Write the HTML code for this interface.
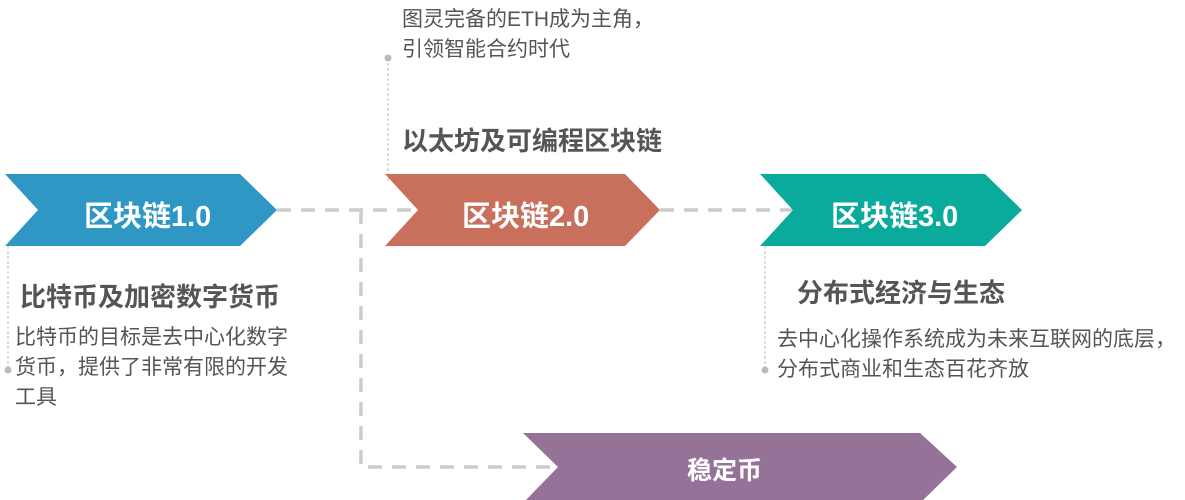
<!DOCTYPE html>
<html><head><meta charset="utf-8"><style>
body{margin:0;background:#fff;width:1185px;height:500px;overflow:hidden;position:relative;font-family:"Liberation Sans","Noto Sans CJK SC",sans-serif}
.t{position:absolute;color:#555;white-space:nowrap}
.h{font-size:26px;font-weight:bold}
.b{font-size:21px;line-height:30px}
.w{position:absolute;color:#fff;font-weight:bold;font-size:29px;white-space:nowrap}
</style></head><body>
<svg width="1185" height="500" style="position:absolute;left:0;top:0">
<g fill="none" stroke="#ccc" stroke-width="3.5" stroke-dasharray="14 10">
<path d="M277 210 H418"/><path d="M361 210 V467 H555"/><path d="M660 210 H793"/>
</g>
<g stroke="#bbb" stroke-width="1" stroke-dasharray="3 2" fill="none">
<path d="M8 246 V370"/><path d="M388 58 V182"/><path d="M765 246 V370"/>
</g>
<g fill="#bbb"><circle cx="8" cy="370" r="3.5"/><circle cx="388" cy="58" r="3.5"/><circle cx="765" cy="370" r="3.5"/></g>
<polygon points="5,174 240,174 277,210 240,246 5,246 38,210" fill="#2e97c4"/>
<polygon points="385,174 625,174 660,210 625,246 385,246 418,210" fill="#c8705c"/>
<polygon points="760,174 985,174 1022,210 985,246 760,246 793,210" fill="#0aaa9c"/>
<polygon points="523,433 920,433 957,467 920,503 523,503 558,467" fill="#957399"/>
</svg>
<div class="w" style="left:84px;top:193px">区块链1.0</div>
<div class="w" style="left:462px;top:193px">区块链2.0</div>
<div class="w" style="left:831px;top:193px">区块链3.0</div>
<div class="w" style="left:687px;top:451px;font-size:25px">稳定币</div>
<div class="t b" style="left:402px;top:5px">图灵完备的ETH成为主角，<br>引领智能合约时代</div>
<div class="t h" style="left:402px;top:121px">以太坊及可编程区块链</div>
<div class="t h" style="left:20px;top:277px">比特币及加密数字货币</div>
<div class="t b" style="left:15px;top:323px">比特币的目标是去中心化数字<br>货币，提供了非常有限的开发<br>工具</div>
<div class="t h" style="left:797px;top:273px">分布式经济与生态</div>
<div class="t b" style="left:777px;top:325px">去中心化操作系统成为未来互联网的底层，<br>分布式商业和生态百花齐放</div>
</body></html>
